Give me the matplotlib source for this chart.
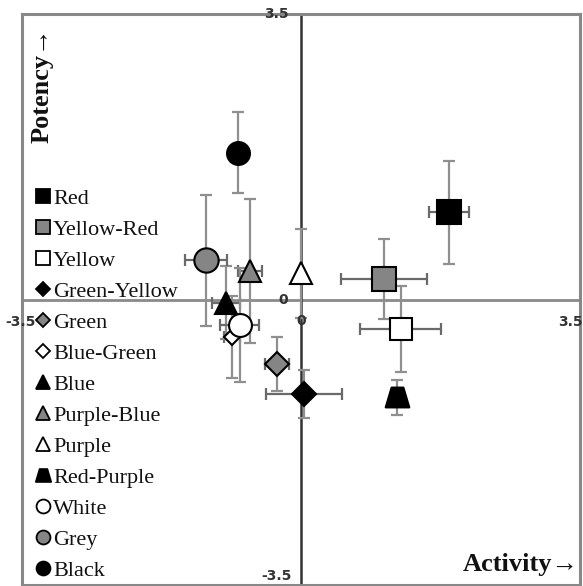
import matplotlib
matplotlib.use("Agg")
import matplotlib.pyplot as plt
from matplotlib.lines import Line2D
from matplotlib.path import Path
import numpy as np

# ---- data ----
colors_names = ["Red", "Yellow-Red", "Yellow", "Green-Yellow", "Green", "Blue-Green",
                "Blue", "Purple-Blue", "Purple", "Red-Purple", "White", "Grey", "Black"]
activity = [1.86, 1.04, 1.25, 0.04, -0.30, -0.87, -0.94, -0.64, 0.00, 1.20, -0.77, -1.19, -0.79]
potency = [1.07, 0.25, -0.36, -1.16, -0.79, -0.46, -0.04, 0.35, 0.32, -1.20, -0.31, 0.48, 1.80]
activity_err = [0.25, 0.54, 0.51, 0.48, 0.15, 0.10, 0.18, 0.15, 0.0, 0.0, 0.24, 0.26, 0.0]
potency_err = [0.63, 0.49, 0.53, 0.29, 0.33, 0.50, 0.45, 0.88, 0.55, 0.21, 0.70, 0.80, 0.50]
tick_vals = [-3.5, 0, 3.5]

# ---- styles ----
G = "#858585"
trap = Path([(-0.25, 0.42), (0.25, 0.42), (0.5, -0.42), (-0.5, -0.42), (-0.25, 0.42)],
            [Path.MOVETO, Path.LINETO, Path.LINETO, Path.LINETO, Path.CLOSEPOLY])
styles = {
    "Red": ("s", "black", 17, 10),
    "Yellow-Red": ("s", G, 17, 10),
    "Yellow": ("s", "white", 16, 10),
    "Green-Yellow": ("D", "black", 12, 7.5),
    "Green": ("D", G, 12.5, 7.5),
    "Blue-Green": ("D", "white", 8, 7.5),
    "Blue": ("^", "black", 16.5, 10),
    "Purple-Blue": ("^", G, 16, 10),
    "Purple": ("^", "white", 16, 10),
    "Red-Purple": (trap, "black", 17, 11),
    "White": ("o", "white", 16.5, 10),
    "Grey": ("o", G, 17.5, 10),
    "Black": ("o", "black", 16.5, 10),
}

plt.rcParams['font.family'] = ['Liberation Serif', 'DejaVu Serif']

fig = plt.figure(figsize=(5.83, 5.86), dpi=100)
ax = fig.add_axes([22/583, 1/586, 558/583, 571/586])
ax.set_xlim(-3.5, 3.5)
ax.set_ylim(-3.5, 3.5)
ax.set_xticks([])
ax.set_yticks([])
for sp in ax.spines.values():
    sp.set_color("#888888")
    sp.set_linewidth(2.2)

ax.axhline(0, color="#8a8a8a", lw=2, zorder=1)
ax.axvline(0, color="#333333", lw=1.8, zorder=1)

# data marks
for name, x, y, xe, ye in zip(colors_names, activity, potency, activity_err, potency_err):
    m, fc, ms, _ = styles[name]
    if ye > 0:
        ax.errorbar([x], [y], yerr=[ye], fmt="none", ecolor="#8f8f8f", elinewidth=1.6,
                    capsize=4, capthick=1.6, zorder=2)
    if xe > 0:
        ax.errorbar([x], [y], xerr=[xe], fmt="none", ecolor="#6a6a6a", elinewidth=1.6,
                    capsize=4, capthick=1.6, zorder=2)
    ax.plot([x], [y], linestyle="none", marker=m, markersize=ms, markerfacecolor=fc,
            markeredgecolor="black", markeredgewidth=1.5, zorder=3)

# tick labels (axes cross at zero)
tk = dict(fontsize=10, fontweight="bold", color="#333333", family="DejaVu Sans")
ax.text(-0.31, tick_vals[2], "3.5", ha="center", va="center", **tk)
ax.text(-0.22, tick_vals[1], "0", ha="center", va="center", **tk)
ax.text(-0.31, tick_vals[0] + 0.02, "-3.5", ha="center", va="bottom", **tk)
ax.text(tick_vals[0] - 0.02, -0.28, "-3.5", ha="center", va="center", clip_on=False, **tk)
ax.text(tick_vals[1], -0.26, "0", ha="center", va="center", **tk)
ax.text(tick_vals[2] + 0.03, -0.28, "3.5", ha="right", va="center", clip_on=False, **tk)

# axis titles
fig.text(42/583, 1 - 85/586, "Potency\u2192", rotation=90, ha="center", va="center",
         fontsize=19, fontweight="bold", color="#111111")
fig.text(579/583, 1 - 565/586, "Activity\u2192", ha="right", va="center",
         fontsize=19, fontweight="bold", color="#111111")

# legend
handles = []
for name in colors_names:
    m, fc, ms, lms = styles[name]
    handles.append(Line2D([], [], linestyle="none", marker=m, markersize=lms,
                          markerfacecolor=fc, markeredgecolor="black", markeredgewidth=1.3))
leg = ax.legend(handles, colors_names, loc="upper left", bbox_to_anchor=(0.026, 0.695),
                frameon=False, fontsize=16, handlelength=0.6, handletextpad=0.15,
                labelspacing=0.47, borderpad=0, borderaxespad=0)
for t in leg.get_texts():
    t.set_color("#111111")

fig.savefig("out.png", dpi=100)
